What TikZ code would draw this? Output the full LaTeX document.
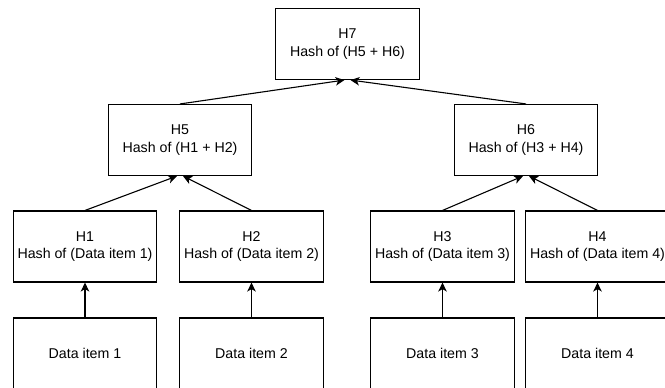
\documentclass[tikz,border=0pt]{standalone}
\usepackage{fontspec}
\setmainfont{Liberation Sans}
\usetikzlibrary{arrows.meta}
\begin{document}
\begin{tikzpicture}[x=1pt,y=-1pt,
  hbox/.style={draw=black, line width=1.1pt, minimum width=143.5pt,
    minimum height=71pt, align=center, inner sep=0pt,
    font=\fontsize{14.2}{17.5}\selectfont, text=black},
  link/.style={draw=black, line width=1.1pt,
    -{Stealth[length=9pt,width=8.5pt,inset=2.5pt]}}]
\useasboundingbox (0,0) rectangle (665,388);
\clip (0,0) rectangle (665,388);

% root
\node[hbox] (H7) at (347.5,44) {H7\\Hash of (H5 + H6)};

% intermediate hashes
\node[hbox] (H5) at (180,140) {H5\\Hash of (H1 + H2)};
\node[hbox] (H6) at (526,140) {H6\\Hash of (H3 + H4)};

% leaf hashes
\node[hbox] (H1) at (85,246.5)    {H1\\Hash of (Data item 1)};
\node[hbox] (H2) at (251.5,246.5) {H2\\Hash of (Data item 2)};
\node[hbox] (H3) at (442.5,246.5) {H3\\Hash of (Data item 3)};
\node[hbox] (H4) at (597.5,246.5) {H4\\Hash of (Data item 4)};

% data blocks
\node[hbox] (D1) at (85,353.5)    {Data item 1};
\node[hbox] (D2) at (251.5,353.5) {Data item 2};
\node[hbox] (D3) at (442.5,353.5) {Data item 3};
\node[hbox] (D4) at (597.5,353.5) {Data item 4};

% data -> leaf hash
\draw[link] (D1.north) -- (H1.south);
\draw[link] (D2.north) -- (H2.south);
\draw[link] (D3.north) -- (H3.south);
\draw[link] (D4.north) -- (H4.south);

% leaf hash -> parent
\draw[link] (H1.north) -- ([xshift=-3pt]H5.south);
\draw[link] (H2.north) -- ([xshift=3pt]H5.south);
\draw[link] (H3.north) -- ([xshift=-3pt]H6.south);
\draw[link] (H4.north) -- ([xshift=3pt]H6.south);

% parent -> root
\draw[link] (H5.north) -- ([xshift=-3pt]H7.south);
\draw[link] (H6.north) -- ([xshift=3pt]H7.south);
\end{tikzpicture}
\end{document}
